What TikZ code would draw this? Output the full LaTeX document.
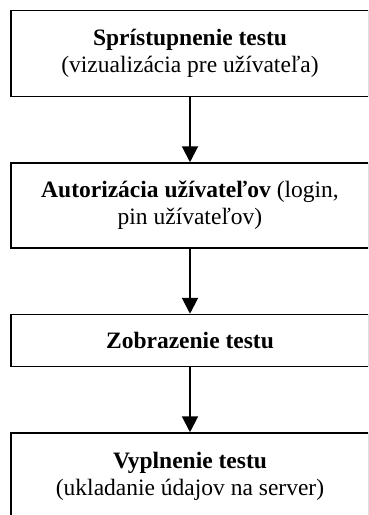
\documentclass[tikz,border=0pt]{standalone}
\usepackage{fontspec}
\setmainfont{Liberation Serif}
\usetikzlibrary{positioning,arrows.meta}

\tikzset{
	krok/.style={draw, line width=1.5pt, minimum width=358pt, minimum height=86pt, align=center, inner sep=0pt, font=\fontsize{23.5}{27}\selectfont},
	sipka/.style={-{Triangle[width=16pt,length=16pt]}, line width=2pt}
}

\begin{document}
\begin{tikzpicture}[x=1pt,y=1pt,node distance=65pt]
				\useasboundingbox (0,0) rectangle (368,-515);
				\clip (0,0) rectangle (368,-515);

				\node[krok] (pristup) at (190,-53.5) {\textbf{Sprístupnenie testu}\\(vizualizácia pre užívateľa)};
				\node[krok, below=of pristup, minimum height=85pt] (autor) {\textbf{Autorizácia užívateľov} (login,\\pin užívateľov)};
				\node[krok, below=of autor, minimum height=52pt] (zobraz) {\textbf{Zobrazenie testu}};
				\node[krok, below=of zobraz] (vyplnenie) {\textbf{Vyplnenie testu}\\(ukladanie údajov na server)};

				\draw[sipka] (pristup) -- (autor);
				\draw[sipka] (autor) -- (zobraz);
				\draw[sipka] (zobraz) -- (vyplnenie);
			\end{tikzpicture}
\end{document}
